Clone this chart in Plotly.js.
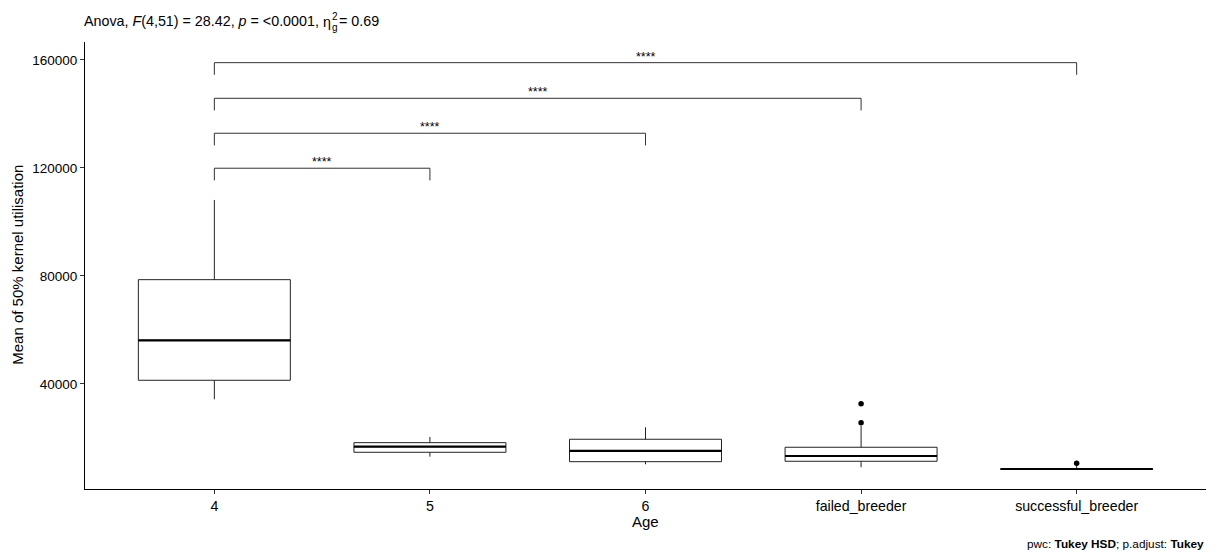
<!DOCTYPE html>
<html>
<head>
<meta charset="utf-8">
<script src="https://cdn.plot.ly/plotly-3.0.1.min.js"></script>
<style>html,body{margin:0;padding:0;background:#fff}</style>
</head>
<body>
<div id="chart" style="width:1218px;height:556px"></div>
<script>
// ---- data ----
const categories = ["4", "5", "6", "failed_breeder", "successful_breeder"];
const q1Values = [41370, 14700, 11220, 11370, 8350];
const medianValues = [56180, 16780, 15185, 13330, 8500];
const q3Values = [78630, 18260, 19520, 16560, 8650];
const lowerWhisker = [34330, 13070, 10250, 9150, 8350];
const upperWhisker = [108150, 20370, 23960, 24440, 9900];
const outlierGroup = [4, 4, 5];
const outlierValues = [32700, 25670, 10630];
// pairwise comparisons (group index 1-based), bracket heights and labels
const compFrom = [1, 1, 1, 1];
const compTo = [2, 3, 4, 5];
const compY = [119900, 132850, 145800, 159000];
const compLabel = ["****", "****", "****", "****"];
const yTicks = [40000, 80000, 120000, 160000];

// ---- styling ----
const boxWidth = 0.705;
const tip = 4500;
const font = "Liberation Sans, Arial, sans-serif";
const xs = categories.map((c, i) => i + 1);

const traces = [];
traces.push({
  type: "box",
  x: xs,
  q1: q1Values,
  median: medianValues,
  q3: q3Values,
  lowerfence: lowerWhisker,
  upperfence: upperWhisker,
  width: boxWidth,
  whiskerwidth: 0,
  fillcolor: "rgba(255,255,255,0)",
  line: {color: "#222", width: 1},
  boxpoints: false,
  hoverinfo: "skip",
  showlegend: false
});
// thicker medians
xs.forEach((x, i) => {
  traces.push({
    type: "scatter", mode: "lines",
    x: [x - boxWidth / 2, x + boxWidth / 2],
    y: [medianValues[i], medianValues[i]],
    line: {color: "#000", width: 2.2},
    hoverinfo: "skip", showlegend: false
  });
});
// outliers
traces.push({
  type: "scatter", mode: "markers",
  x: outlierGroup, y: outlierValues,
  marker: {color: "#000", size: 5.5},
  hoverinfo: "skip", showlegend: false
});
// brackets
const annotations = [];
compFrom.forEach((a, i) => {
  const b = compTo[i], y = compY[i];
  traces.push({
    type: "scatter", mode: "lines",
    x: [a, a, b, b],
    y: [y - tip, y, y, y - tip],
    line: {color: "#333", width: 1},
    hoverinfo: "skip", showlegend: false
  });
  annotations.push({
    x: (a + b) / 2, y: y, xref: "x", yref: "y",
    text: compLabel[i], showarrow: false,
    yanchor: "bottom", yshift: -3,
    font: {family: font, size: 12.5, color: "#000"}
  });
});

// title pieces (subtitle style)
const px = v => (v - 85) / 1121;
const py = v => (489.5 - v) / 447.5;
const titlePieces = [
  {x: 82, y: 21, text: "Anova, <i>F</i>(4,51) = 28.42, <i>p</i> = &lt;0.0001,", size: 14.3},
  {x: 320.5, y: 21.5, text: "η", size: 14.3},
  {x: 329.5, y: 16.5, text: "2", size: 10},
  {x: 329.5, y: 27, text: "g", size: 10},
  {x: 337, y: 21, text: "= 0.69", size: 14.3}
];
titlePieces.forEach(p => annotations.push({
  xref: "paper", yref: "paper", x: px(p.x), y: py(p.y),
  xanchor: "left", yanchor: "middle", showarrow: false,
  text: p.text, font: {family: font, size: p.size, color: "#000"}
}));
// caption
annotations.push({
  xref: "paper", yref: "paper", x: 1, y: py(545),
  xanchor: "right", yanchor: "middle", showarrow: false,
  text: "pwc: <b>Tukey HSD</b>; p.adjust: <b>Tukey</b>",
  font: {family: font, size: 11.8, color: "#000"}
});
// y axis title
annotations.push({
  xref: "paper", yref: "paper", x: px(18), y: py(265),
  xanchor: "center", yanchor: "middle", showarrow: false, textangle: -90,
  text: "Mean of 50% kernel utilisation", font: {family: font, size: 15, color: "#000"}
});
// x axis title
annotations.push({
  xref: "paper", yref: "paper", x: px(645), y: py(522),
  xanchor: "center", yanchor: "middle", showarrow: false,
  text: "Age", font: {family: font, size: 15, color: "#000"}
});

const layout = {
  width: 1218, height: 556,
  margin: {l: 85, r: 11.5, t: 42, b: 66.5, pad: 0},
  paper_bgcolor: "#fff", plot_bgcolor: "#fff",
  showlegend: false,
  xaxis: {
    range: [0.4, 5.6], tickvals: xs, ticktext: categories,
    showline: true, linecolor: "#000", linewidth: 1,
    ticks: "outside", ticklen: 4, tickcolor: "#333", tickwidth: 1,
    showgrid: false, zeroline: false,
    tickfont: {family: font, size: 14.2, color: "#000"}
  },
  yaxis: {
    range: [1100, 166650], tickvals: yTicks, tickformat: "d",
    showline: true, linecolor: "#000", linewidth: 1,
    ticks: "outside", ticklen: 4, tickcolor: "#333", tickwidth: 1,
    showgrid: false, zeroline: false,
    tickfont: {family: font, size: 13.5, color: "#000"}
  },
  annotations: annotations
};

Plotly.newPlot("chart", traces, layout, {staticPlot: true, displayModeBar: false});
</script>
</body>
</html>
